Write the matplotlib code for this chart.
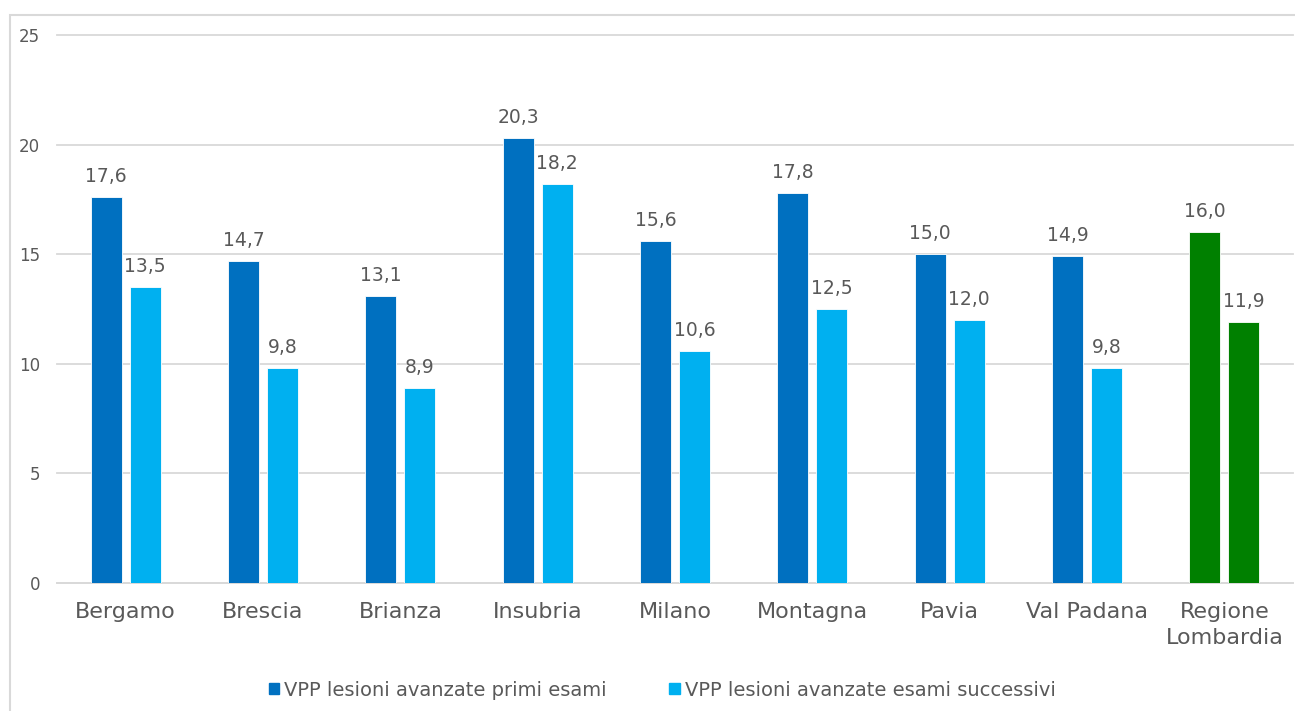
import numpy as np
import matplotlib.pyplot as plt
from matplotlib.patches import Rectangle, Patch

categories = ["Bergamo", "Brescia", "Brianza", "Insubria", "Milano",
              "Montagna", "Pavia", "Val Padana", "Regione\nLombardia"]
primi = [17.6, 14.7, 13.1, 20.3, 15.6, 17.8, 15.0, 14.9, 16.0]
successivi = [13.5, 9.8, 8.9, 18.2, 10.6, 12.5, 12.0, 9.8, 11.9]
yticks = [0, 5, 10, 15, 20, 25]

dark = "#0070C0"
light = "#00B0F0"
green = "#008000"
txt = "#595959"

plt.rcParams['font.family'] = ['DejaVu Sans']

W, H = 1295, 711
fig = plt.figure(figsize=(W / 100, H / 100), dpi=100)
ax = fig.add_axes([57 / W, 1 - 583 / H, (1293 - 57) / W, (583 - 35) / H])

x = np.arange(len(categories))
w = 0.225
off = 0.142
c1 = [dark] * (len(x) - 1) + [green]
c2 = [light] * (len(x) - 1) + [green]
b1 = ax.bar(x - off, primi, w, color=c1, edgecolor="white", linewidth=0.6, zorder=3)
b2 = ax.bar(x + off, successivi, w, color=c2, edgecolor="white", linewidth=0.6, zorder=3)

def fmt(v):
    return f"{v:.1f}".replace(".", ",")

# value labels above each bar, decimal comma
for bars, vals in ((b1, primi), (b2, successivi)):
    for b, v in zip(bars, vals):
        ax.text(b.get_x() + b.get_width() / 2, v + 0.5, fmt(v), ha="center", va="bottom",
                fontsize=13.5, color=txt)

ax.set_xlim(-0.5, len(x) - 0.5)
ax.set_ylim(0, 25)
ax.set_yticks(yticks)
ax.set_yticklabels([str(t) for t in yticks], fontsize=12, color=txt)
ax.set_xticks(x)
ax.set_xticklabels(categories, fontsize=16, color=txt, linespacing=1.35)
ax.tick_params(axis="both", length=0)
ax.tick_params(axis="y", pad=12)
ax.tick_params(axis="x", pad=14)
ax.grid(axis="y", color="#D9D9D9", linewidth=1.3, zorder=0)
for line in ax.get_ygridlines():
    line.set_clip_on(False)
for s in ax.spines.values():
    s.set_visible(False)
ax.axhline(0, color="#D9D9D9", linewidth=1.3, zorder=2, clip_on=False)

handles = [Patch(color=dark, label="VPP lesioni avanzate primi esami"),
           Patch(color=light, label="VPP lesioni avanzate esami successivi")]
fig.legend(handles=handles, loc="center", bbox_to_anchor=(662 / W, 1 - 690 / H), ncol=2,
           frameon=False, fontsize=14, labelcolor=txt, handlelength=0.55, handleheight=0.55,
           handletextpad=0.25, columnspacing=3.2)

# light frame around the chart area
fig.patches.append(Rectangle((10 / W, -0.05), 1.2, 1 - 15 / H + 0.05, transform=fig.transFigure,
                             fill=False, edgecolor="#D9D9D9", linewidth=1.5))

fig.savefig("out.png", dpi=100)
